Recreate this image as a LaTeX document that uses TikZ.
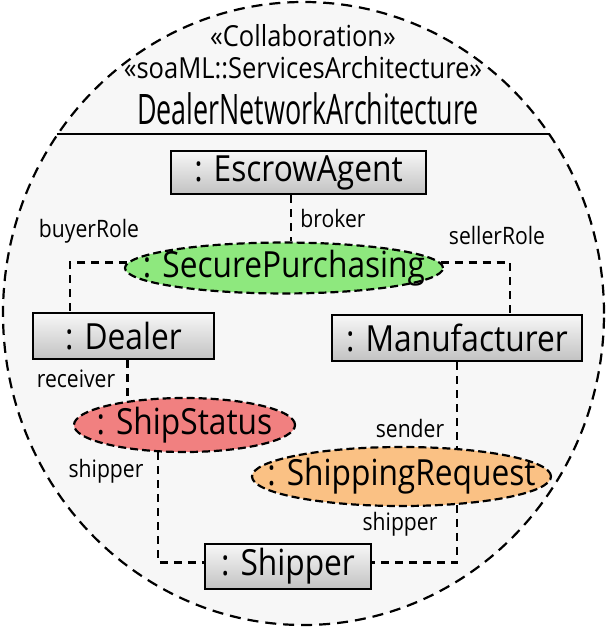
\documentclass[tikz,border=0pt]{standalone}
\usepackage{fontspec}
\setmainfont{Open Sans}[FakeStretch=0.88]
\newfontfamily\titlefont{Open Sans}[FakeStretch=0.64]
\usetikzlibrary{shapes.geometric}
\definecolor{framegray}{RGB}{247,247,247}
\definecolor{purchasegreen}{RGB}{142,232,126}
\definecolor{statusred}{RGB}{241,128,128}
\definecolor{requestorange}{RGB}{250,193,132}
\newcommand{\usagename}[1]{\makebox[0pt]{#1}}

\begin{document}
\begin{tikzpicture}[x=1pt,y=1pt]
\tikzstyle{every node}+=[inner sep=0pt]
\tikzstyle{part}=[rectangle, draw=black, line width=2.2pt, top color=black!3, bottom color=black!24, font=\fontsize{36}{40}\selectfont]
\tikzstyle{usage}=[ellipse, draw=black, line width=2.2pt, dash pattern=on 8pt off 4pt, font=\fontsize{36}{40}\selectfont]
\tikzstyle{conn}=[line width=2.2pt, dash pattern=on 8pt off 6pt]
\tikzstyle{role}=[anchor=base, font=\fontsize{24}{27}\selectfont]
\tikzstyle{stereo}=[anchor=base, font=\fontsize{29}{33}\selectfont]
\useasboundingbox (0,0) rectangle (608,-627);
\node [ellipse, draw=black, fill=framegray, line width=2.2pt, dash pattern=on 11pt off 7pt, minimum width=601pt, minimum height=623pt] (frame) at (303.5,-313.5) {};
\draw [line width=2.2pt] (frame.144) -- (frame.36);
\node [stereo] (collabst) at (303,-46) {«Collaboration»};
\node [stereo] (archst) at (303,-78) {«soaML::ServicesArchitecture»};
\node [anchor=base, font=\titlefont\fontsize{42}{46}\selectfont] (collabname) at (308,-124) {DealerNetworkArchitecture};
\node [part, minimum width=255pt, minimum height=43pt] (escrow) at (298.5,-172.5) {: EscrowAgent};
\node [part, minimum width=181pt, minimum height=46pt] (dealer) at (123.5,-336) {: Dealer};
\node [part, minimum width=250pt, minimum height=46pt] (manuf) at (457,-338) {: Manufacturer};
\node [part, minimum width=166pt, minimum height=45pt] (shipper) at (288,-566.5) {: Shipper};
\node [usage, fill=purchasegreen, minimum width=318pt, minimum height=50pt] (secure) at (284,-268) {\usagename{: SecurePurchasing}};
\node [usage, fill=statusred, minimum width=221pt, minimum height=54pt] (shipstatus) at (184.5,-425) {\usagename{: ShipStatus}};
\node [usage, fill=requestorange, minimum width=299pt, minimum height=59pt] (shipreq) at (401.5,-476.5) {\usagename{: ShippingRequest}};
\draw [conn] ([xshift=-7.5pt]escrow.south) -- ([xshift=-7.5pt]escrow.south |- secure.north);
\draw [conn] (secure.178) -| ([xshift=38pt]dealer.north west);
\draw [conn] (secure.2) -| ([xshift=-73pt]manuf.north east);
\draw [conn] (shipstatus.157 |- dealer.south) -- (shipstatus.157);
\draw [conn] (shipreq.27 |- manuf.south) -- (shipreq.27);
\draw [conn] (shipstatus.226) |- ([yshift=4pt]shipper.west);
\draw [conn] (shipreq.-27) |- ([yshift=4pt]shipper.east);
\node [role] (broker) at (333,-227) {broker};
\node [role] (buyer) at (89,-237) {buyerRole};
\node [role] (seller) at (497,-244) {sellerRole};
\node [role] (receiver) at (76,-387) {receiver};
\node [role] (sender) at (410,-437) {sender};
\node [role] (statusshipper) at (106,-477) {shipper};
\node [role] (reqshipper) at (400,-530) {shipper};
\end{tikzpicture}
\end{document}
